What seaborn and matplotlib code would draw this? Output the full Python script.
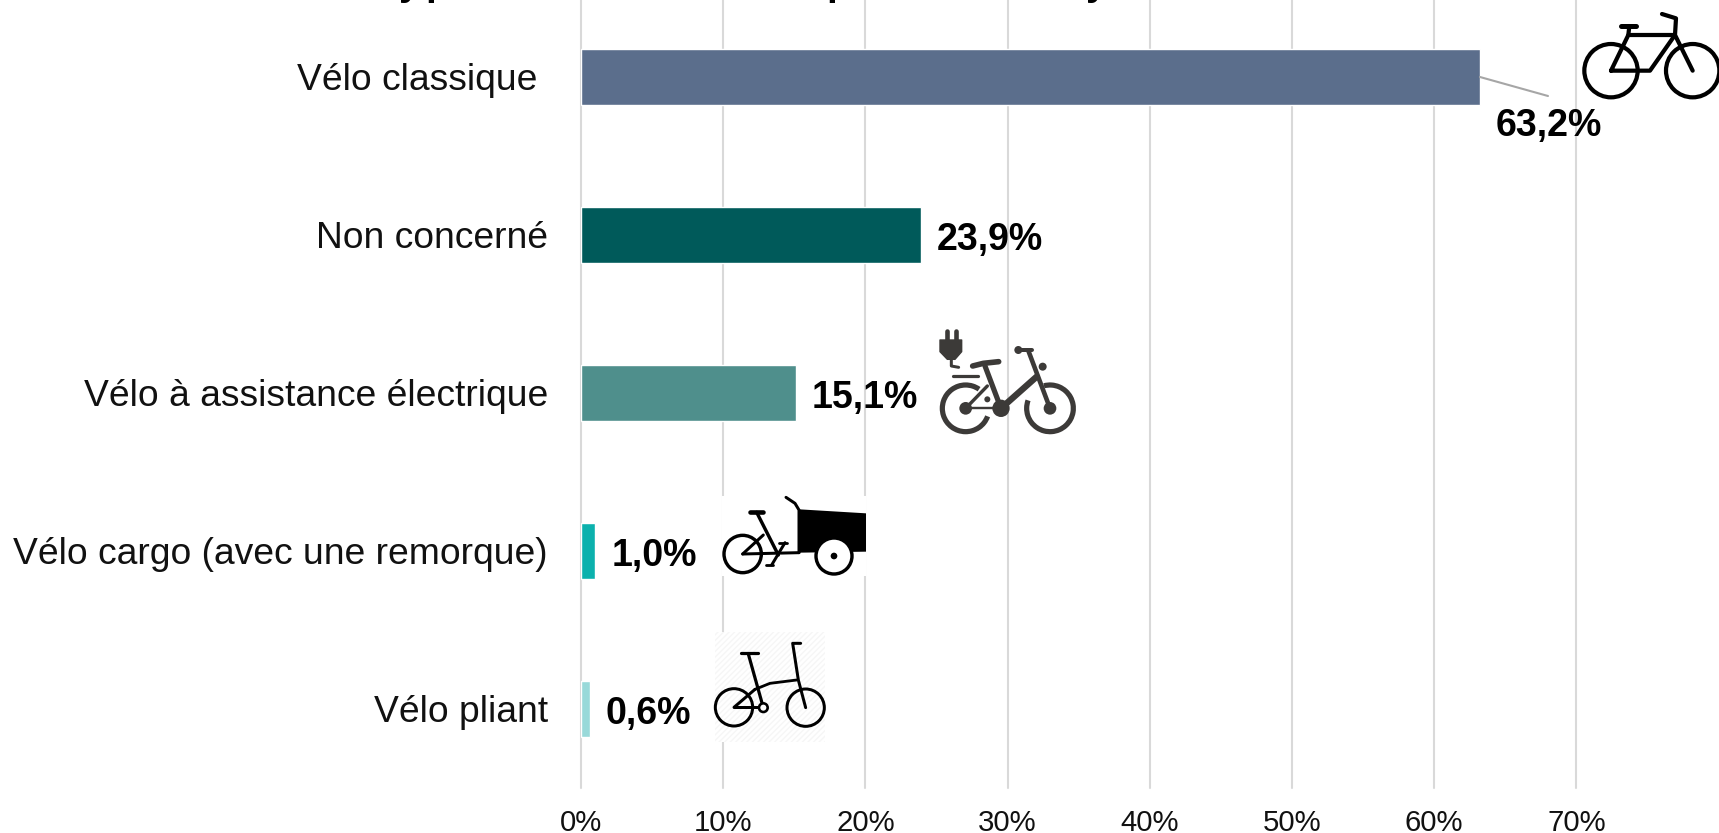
import matplotlib
matplotlib.use("Agg")
import matplotlib.pyplot as plt
import numpy as np
import pandas as pd
import seaborn as sns
from matplotlib.patches import Arc, Circle, Polygon, Rectangle

categories = ["Vélo classique ", "Non concerné", "Vélo à assistance électrique",
              "Vélo cargo (avec une remorque)", "Vélo pliant"]
values = [63.2, 23.9, 15.1, 1.0, 0.6]
value_labels = ["63,2%", "23,9%", "15,1%", "1,0%", "0,6%"]
bar_colors = ["#5B6E8C", "#005A5A", "#4F8F8C", "#0CB1AD", "#99D9D9"]
x_ticks = [0, 10, 20, 30, 40, 50, 60, 70]
x_tick_labels = ["0%", "10%", "20%", "30%", "40%", "50%", "60%", "70%"]
# Only the lower edge of the cut-off title survives in the reference
title_glyphs = ["y", "p", "p", "y"]
title_glyph_x = [399, 425, 826, 1086]

W, H = 1719, 833
sns.set_theme(style="white")
plt.rcParams["font.family"] = ["Liberation Sans", "DejaVu Sans"]

fig = plt.figure(figsize=(W / 100, H / 100), dpi=100)
L, R, T, B = 581, 1718.6, -2, 788
ax = fig.add_axes([L / W, 1 - B / H, (R - L) / W, (B - T) / H])
df = pd.DataFrame({"cat": categories, "val": values})
sns.barplot(data=df, x="val", y="cat", hue="cat", palette=bar_colors, legend=False,
            width=56 / 158, saturation=1, ax=ax, zorder=3)
ax.set_xlim(0, 80)
ax.set_ylim(4.5, -0.5)
ax.set_xlabel("")
ax.set_ylabel("")
ax.set_xticks(x_ticks)
ax.set_xticklabels(x_tick_labels, fontsize=21.2, color="#111111")
ax.tick_params(axis="x", length=0, pad=15)
ax.tick_params(axis="y", length=0, pad=23.8, labelsize=26.8, labelcolor="#111111")
ax.grid(axis="x", color="#D9D9D9", lw=1.5, zorder=0, clip_on=False)
ax.set_axisbelow(True)
for s in ax.spines.values():
    s.set_visible(False)

for i, (v, lab) in enumerate(zip(values, value_labels)):
    if i == 0:
        continue
    ax.annotate(lab, (v, i), xytext=(11.5, -3.7), textcoords="offset points",
                va="center", ha="left", fontsize=27.1, fontweight="bold", color="black")

# Icon overlay in pixel coordinates
ov = fig.add_axes([0, 0, 1, 1], zorder=5)
ov.set_xlim(0, W)
ov.set_ylim(H, 0)
ov.axis("off")
ov.patch.set_alpha(0)

PX = 0.72

for g, gx in zip(title_glyphs, title_glyph_x):
    ov.text(gx, -5, g, ha="left", va="baseline", fontsize=28, fontweight="bold", color="black")


def tx(pts, ox, oy):
    return [(ox + x / 3, oy + y / 3) for x, y in pts]


def line(pts, ox, oy, lw, color="black", cap="round"):
    p = np.array(tx(pts, ox, oy))
    ov.plot(p[:, 0], p[:, 1], color=color, lw=lw * PX, solid_capstyle=cap, solid_joinstyle="round", zorder=3)


def ring(c, r, ox, oy, lw, color="black"):
    (x, y) = tx([c], ox, oy)[0]
    ov.add_patch(Circle((x, y), r / 3, fill=False, ec=color, lw=lw * PX, zorder=2))


def disc(c, r, ox, oy, color="black", z=4):
    (x, y) = tx([c], ox, oy)[0]
    ov.add_patch(Circle((x, y), r / 3, fc=color, ec="none", zorder=z))


# Leader line of the first label
ov.plot([1480, 1548], [77, 96], color="#A6A6A6", lw=1.5)
ov.text(1549, 126, value_labels[0], ha="center", va="center", fontsize=27.1,
        fontweight="bold", color="black", zorder=6)

# Classic bike
ox, oy = 1420, 0
ring((573, 212), 80, ox, oy, 4.2)
ring((818, 212), 80, ox, oy, 4.2)
line([(573, 212), (625, 105), (765, 105), (690, 212), (573, 212)], ox, oy, 4.2)
line([(625, 105), (628, 78)], ox, oy, 4.2)
line([(603, 78), (648, 78)], ox, oy, 5)
line([(818, 212), (765, 105), (768, 55), (726, 42)], ox, oy, 4.2)

# Electric bike
ox, oy = 900, 310
c = "#3C3A38"
for cx, cy, a0, a1 in [(197, 295, 20, 305), (450, 295, 255, 560)]:
    (x, y) = tx([(cx, cy)], ox, oy)[0]
    ov.add_patch(Arc((x, y), 140 / 3, 140 / 3, theta1=a0, theta2=a1, ec=c, lw=5.2 * PX, zorder=2))
disc((197, 295), 19, ox, oy, c)
disc((450, 295), 19, ox, oy, c)
disc((303, 295), 26, ox, oy, c)
line([(197, 295), (303, 295)], ox, oy, 2.4, c)
line([(197, 295), (262, 228)], ox, oy, 3.4, c)
line([(255, 168), (303, 295)], ox, oy, 5.2, c)
line([(303, 295), (410, 200)], ox, oy, 6.4, c)
line([(385, 122), (450, 295)], ox, oy, 4.6, c)
line([(355, 120), (397, 120)], ox, oy, 4, c)
disc((355, 120), 12, ox, oy, c)
disc((428, 170), 12, ox, oy, c)
line([(218, 168), (250, 160), (296, 155)], ox, oy, 5.6, c)
line([(160, 199), (235, 199)], ox, oy, 3.2, c)
disc((262, 268), 9, ox, oy, c)
ov.add_patch(Polygon(tx([(120, 90), (185, 90), (185, 125), (165, 148), (142, 148), (120, 125)], ox, oy),
                     fc=c, ec=c, lw=1, joinstyle="round"))
line([(140, 62), (140, 92)], ox, oy, 4.6, c)
line([(167, 62), (167, 92)], ox, oy, 4.6, c)
line([(154, 148), (154, 168), (176, 172)], ox, oy, 3, c)

# Cargo bike
ox, oy = 700, 480
ov.add_patch(Rectangle((ox + 65 / 3, oy + 48 / 3), 433 / 3, 240 / 3, fc="white", ec="none", zorder=0.5))
ring((128, 222), 56, ox, oy, 3.4)
ov.add_patch(Polygon(tx([(298, 88), (498, 100), (498, 215), (298, 218)], ox, oy),
                     fc="black", ec="none", zorder=1))
disc((402, 228), 54, ox, oy, "white", z=1.5)
ring((402, 228), 54, ox, oy, 3.4)
disc((402, 228), 10, ox, oy)
line([(258, 52), (285, 70), (297, 90), (297, 218)], ox, oy, 3)
line([(128, 222), (297, 218)], ox, oy, 3)
line([(128, 222), (190, 165)], ox, oy, 3)
line([(170, 97), (235, 225)], ox, oy, 3.4)
line([(150, 97), (188, 97)], ox, oy, 4.6)
line([(255, 188), (215, 255)], ox, oy, 3)
line([(238, 188), (262, 188)], ox, oy, 2.8)
line([(197, 255), (220, 255)], ox, oy, 2.8)

# Folding bike
ov.add_patch(Rectangle((ox + 45 / 3, oy + 455 / 3), 330 / 3, 330 / 3, fc="white", ec="#F6F6F6",
                       hatch="//////", lw=0, zorder=0.5))
ring((102, 682), 56, ox, oy, 3)
ring((317, 683), 56, ox, oy, 3)
line([(145, 522), (190, 683)], ox, oy, 3.2)
line([(122, 520), (175, 520)], ox, oy, 3.2)
line([(165, 628), (210, 610), (290, 600)], ox, oy, 2.8)
line([(302, 490), (278, 490), (295, 600), (317, 683)], ox, oy, 3)
line([(102, 682), (180, 682)], ox, oy, 3)
line([(102, 682), (165, 628)], ox, oy, 3)
ov.add_patch(Circle(tx([(190, 683)], ox, oy)[0], 13 / 3, fc="white", ec="black", lw=2.6 * PX, zorder=4))

fig.savefig("out.png", dpi=100)
